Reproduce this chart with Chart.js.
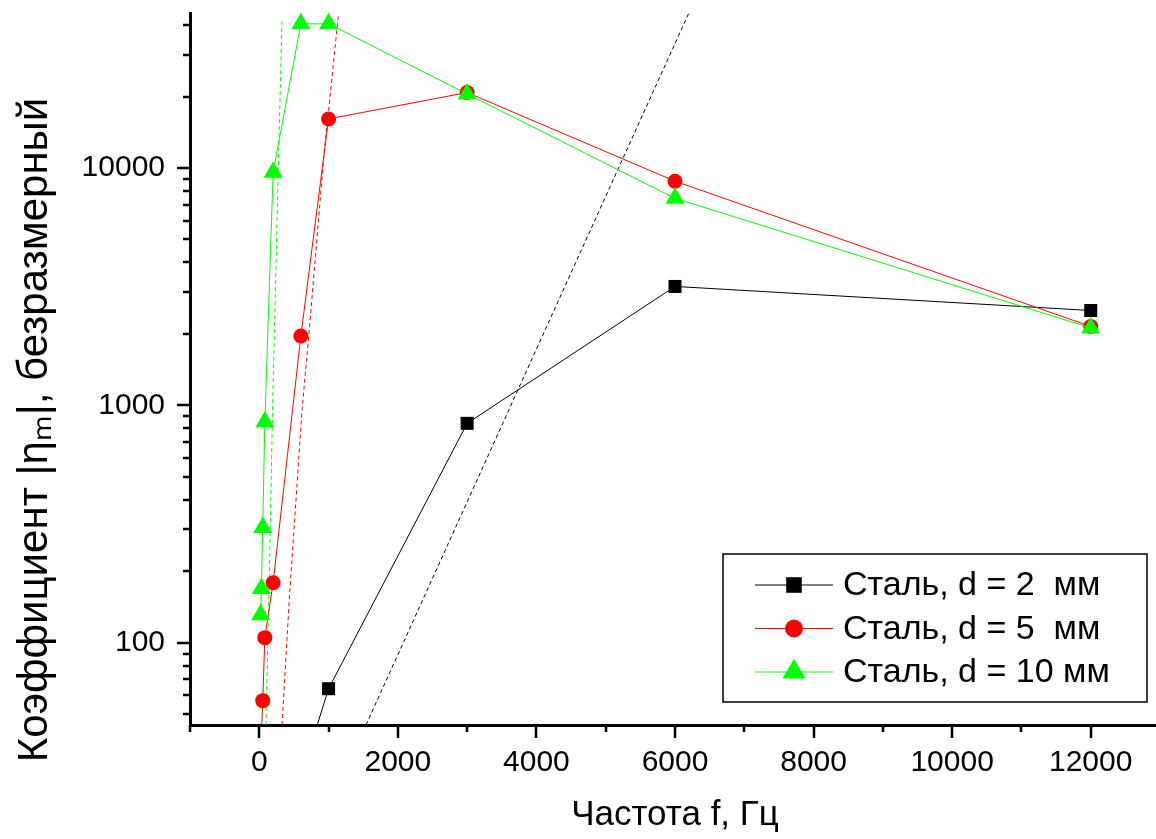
<!DOCTYPE html>
<html>
<head>
<meta charset="utf-8">
<script src="https://cdn.jsdelivr.net/npm/chart.js@4.4.1/dist/chart.umd.min.js"></script>
<style>
  html, body { margin: 0; padding: 0; background: #fff; overflow: hidden; }
</style>
</head>
<body>
<canvas id="eta" width="1171" height="839"></canvas>
<script>
// frequency f, Hz  ->  |eta_m|
var fSteel2 = [600, 1000, 3000, 6000, 12000];
var etaSteel2 = [27, 64, 840, 3170, 2510];

var fSteel5 = [20, 50, 80, 200, 600, 1000, 3000, 6000, 12000];
var etaSteel5 = [34, 57, 105, 179, 1960, 16100, 20800, 8800, 2150];

var fSteel10 = [20, 30, 50, 80, 200, 600, 1000, 3000, 6000, 12000];
var etaSteel10 = [131, 169, 306, 850, 9600, 40500, 40500, 20500, 7450, 2120];

// dashed trend lines
var fTrend2 = [1540, 6200];
var etaTrend2 = [45, 45000];
var fTrend5 = [328, 433, 617, 722, 939, 1001, 1141];
var etaTrend5 = [45, 152, 957, 2080, 11900, 17500, 44000];
var fTrend10 = [95, 144, 192, 264, 328];
var etaTrend10 = [45, 184, 975, 7330, 42800];

var seriesNames = ['Сталь, d = 2  мм', 'Сталь, d = 5  мм', 'Сталь, d = 10 мм'];
var xTitle = 'Частота f, Гц';
var yTitle = 'Коэффициент |ηₘ|, безразмерный';

var FONT = 'Arial, "Liberation Sans", sans-serif';

function pts(xs, ys) {
  return xs.map(function (x, i) { return {x: x, y: ys[i]}; });
}

function solid(label, xs, ys, color, style, r, order) {
  return {
    label: label,
    data: pts(xs, ys),
    showLine: true,
    borderColor: color,
    backgroundColor: color,
    borderWidth: 1,
    pointStyle: style,
    pointRadius: r,
    pointBackgroundColor: color,
    pointBorderWidth: 0,
    order: order,
    clip: {left: 0, top: 2, right: 0, bottom: 0}
  };
}

function trend(xs, ys, color) {
  return {
    label: '',
    data: pts(xs, ys),
    showLine: true,
    borderColor: color,
    borderWidth: 1,
    borderDash: [4, 3],
    pointRadius: 0,
    order: 5,
    clip: 0
  };
}

var mainSets = [
  solid(seriesNames[0], fSteel2, etaSteel2, '#000000', 'rect', 9.2, 3),
  solid(seriesNames[1], fSteel5, etaSteel5, '#ff0000', 'circle', 7.5, 2),
  solid(seriesNames[2], fSteel10, etaSteel10, '#00ff00', 'triangle', 11, 1)
];

// outward ticks, long on labelled values, short on the others; y title
var axisTicks = {
  id: 'axisTicks',
  afterDraw: function (chart) {
    var ctx = chart.ctx, xs = chart.scales.x, ys = chart.scales.y, a = chart.chartArea;
    ctx.save();
    ctx.strokeStyle = '#000';
    ctx.lineWidth = 2.5;
    ctx.beginPath();
    for (var v = xs.min; v <= xs.max; v += 1000) {
      var px = Math.round(xs.getPixelForValue(v));
      var len = (v % 2000 === 0) ? 13 : 7;
      ctx.moveTo(px, a.bottom);
      ctx.lineTo(px, a.bottom + len);
    }
    for (var d = 1; d <= 4; d++) {
      for (var k = 1; k <= 9; k++) {
        var val = k * Math.pow(10, d);
        if (val < ys.min || val > ys.max) continue;
        var py = Math.round(ys.getPixelForValue(val));
        var l = (k === 1) ? 13 : 7;
        ctx.moveTo(a.left, py);
        ctx.lineTo(a.left - l, py);
      }
    }
    ctx.stroke();

    ctx.translate(35, 430);
    ctx.rotate(-Math.PI / 2);
    ctx.fillStyle = '#000';
    ctx.font = '42px ' + FONT;
    ctx.textAlign = 'center';
    ctx.textBaseline = 'middle';
    ctx.fillText(yTitle, 0, 0);
    ctx.restore();
  }
};

var legendBox = {
  id: 'legendBox',
  afterDraw: function (chart) {
    var ctx = chart.ctx, a = chart.chartArea;
    var w = 424, h = 148;
    var x0 = a.right - 437, y0 = a.bottom - 171;
    ctx.save();
    ctx.fillStyle = '#fff';
    ctx.fillRect(x0, y0, w, h);
    ctx.strokeStyle = '#000';
    ctx.lineWidth = 1.5;
    ctx.strokeRect(x0, y0, w, h);
    mainSets.forEach(function (ds, i) {
      var yy = y0 + 31 + i * 43.5;
      ctx.strokeStyle = ds.borderColor;
      ctx.lineWidth = 1;
      ctx.beginPath();
      ctx.moveTo(x0 + 32, yy);
      ctx.lineTo(x0 + 110, yy);
      ctx.stroke();
      ctx.fillStyle = ds.borderColor;
      Chart.helpers.drawPoint(ctx, {
        pointStyle: ds.pointStyle, radius: ds.pointRadius * 1.2, rotation: 0, borderWidth: 0
      }, x0 + 71, yy);
      ctx.fillStyle = '#000';
      ctx.font = '34px ' + FONT;
      ctx.textBaseline = 'middle';
      ctx.textAlign = 'left';
      ctx.fillText(ds.label, x0 + 120, yy + 1);
    });
    ctx.restore();
  }
};

new Chart(document.getElementById('eta'), {
  type: 'scatter',
  data: {
    datasets: mainSets.concat([
      trend(fTrend2, etaTrend2, '#000000'),
      trend(fTrend5, etaTrend5, '#ff0000'),
      trend(fTrend10, etaTrend10, '#00ff00')
    ])
  },
  options: {
    responsive: false,
    animation: false,
    layout: { padding: { top: 13, right: 0, left: 0, bottom: 0 } },
    plugins: { legend: { display: false }, tooltip: { enabled: false } },
    scales: {
      x: {
        type: 'linear',
        min: -1000,
        max: 13000,
        grid: { display: false, drawTicks: false },
        border: { display: true, color: '#000', width: 3 },
        ticks: {
          stepSize: 1000,
          autoSkip: false,
          maxRotation: 0,
          padding: 20,
          color: '#000',
          font: { family: FONT, size: 30 },
          callback: function (v) { return (v % 2000 === 0 && v >= 0 && v <= 12000) ? String(v) : ''; }
        },
        title: {
          display: true,
          text: xTitle,
          color: '#000',
          font: { family: FONT, size: 35 },
          padding: { top: 0, bottom: 3 }
        },
        afterFit: function (s) {
          s.height = 114;
          s.paddingLeft = 0;
          s.paddingRight = 0;
        }
      },
      y: {
        type: 'logarithmic',
        min: 45,
        max: 45000,
        grid: { display: false, drawTicks: false },
        border: { display: true, color: '#000', width: 3 },
        ticks: {
          autoSkip: false,
          padding: 25,
          color: '#000',
          font: { family: FONT, size: 30 },
          callback: function (v) {
            return (v === 100 || v === 1000 || v === 10000) ? String(v) : '';
          }
        },
        afterFit: function (s) {
          s.width = 190;
          s.paddingTop = 0;
          s.paddingBottom = 0;
        }
      }
    }
  },
  plugins: [axisTicks, legendBox]
});
</script>
</body>
</html>
